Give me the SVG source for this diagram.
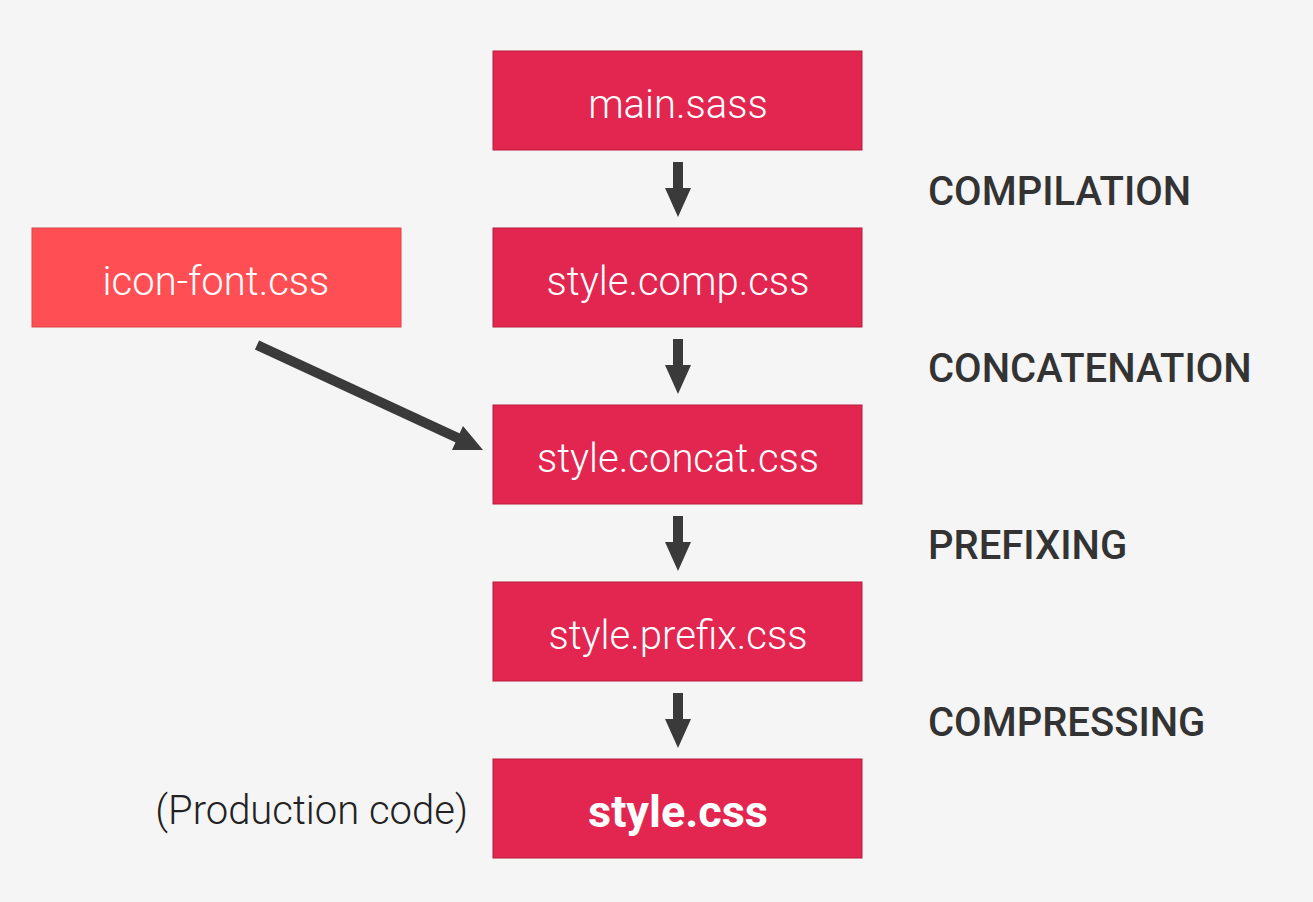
<svg xmlns="http://www.w3.org/2000/svg" width="1313" height="902" viewBox="0 0 1313 902">
  <style>
    .box { fill: #e2264f; stroke: #b81c3f; stroke-width: 1; }
    .ext { fill: #ff4f55; stroke: #d9444a; stroke-width: 1; }
    .lbl { font-family: Roboto, "Liberation Sans", sans-serif; font-weight: 300; font-size: 40px; fill: #ffffff; text-anchor: middle; }
    .bold { font-weight: 700; font-size: 45px; }
    .step { font-family: Roboto, "Liberation Sans", sans-serif; font-weight: 500; font-size: 40px; fill: #333333; }
    .note { font-family: Roboto, "Liberation Sans", sans-serif; font-weight: 300; font-size: 40px; fill: #222222; text-anchor: end; }
    .arrow { fill: #3a3a3a; }
    .shaft { stroke: #3a3a3a; stroke-width: 10; fill: none; }
  </style>
  <rect width="1313" height="902" fill="#f5f5f5"/>

  <g id="main-sass">
    <rect class="box" x="493" y="51" width="369" height="99"/>
    <text class="lbl" x="678" y="118">main.sass</text>
  </g>
  <g id="style-comp">
    <rect class="box" x="493" y="228" width="369" height="99"/>
    <text class="lbl" x="678" y="295">style.comp.css</text>
  </g>
  <g id="icon-font">
    <rect class="ext" x="32" y="228" width="369" height="99"/>
    <text class="lbl" x="216" y="295">icon-font.css</text>
  </g>
  <g id="style-concat">
    <rect class="box" x="493" y="405" width="369" height="99"/>
    <text class="lbl" x="678" y="472">style.concat.css</text>
  </g>
  <g id="style-prefix">
    <rect class="box" x="493" y="582" width="369" height="99"/>
    <text class="lbl" x="678" y="649">style.prefix.css</text>
  </g>
  <g id="style-css">
    <rect class="box" x="493" y="759" width="369" height="99"/>
    <text class="lbl bold" x="678" y="827">style.css</text>
  </g>

  <g id="connectors">
    <path class="arrow" d="M673,162 H683 V188 H691 L678,217 L665,188 H673 Z"/>
    <path class="arrow" d="M673,339 H683 V365 H691 L678,394 L665,365 H673 Z"/>
    <path class="arrow" d="M673,516 H683 V542 H691 L678,571 L665,542 H673 Z"/>
    <path class="arrow" d="M673,693 H683 V719 H691 L678,748 L665,719 H673 Z"/>
    <line class="shaft" x1="257" y1="345" x2="460" y2="439"/>
    <polygon class="arrow" points="483,450 452,450 463,426"/>
  </g>

  <g id="steps">
    <text class="step" x="928" y="205">COMPILATION</text>
    <text class="step" x="928" y="382">CONCATENATION</text>
    <text class="step" x="928" y="559">PREFIXING</text>
    <text class="step" x="928" y="736">COMPRESSING</text>
  </g>
  <text class="note" x="468" y="824">(Production code)</text>
</svg>
